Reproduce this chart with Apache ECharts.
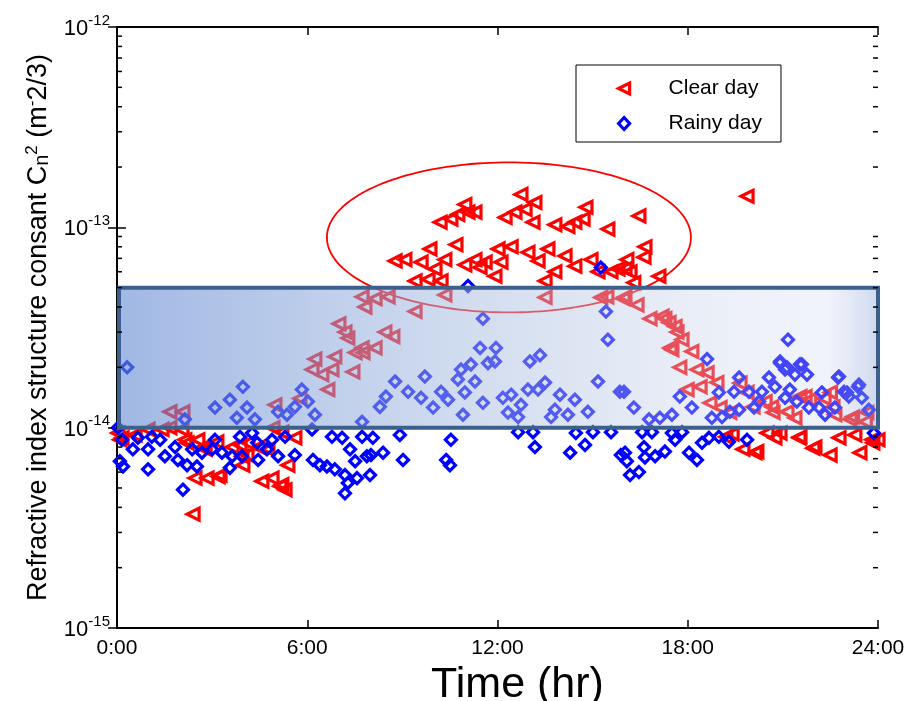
<!DOCTYPE html>
<html><head><meta charset="utf-8">
<script src="https://cdn.jsdelivr.net/npm/echarts@6/dist/echarts.min.js"></script>
<style>html,body{margin:0;padding:0;background:#fff}#c{width:908px;height:701px}</style>
</head><body><div id="c"></div>
<script>
// ---- data ----
const xTickValues = [0, 6, 12, 18, 24];
const xTickLabels = ['0:00', '6:00', '12:00', '18:00', '24:00'];
const yDecades = [1e-15, 1e-14, 1e-13, 1e-12];
const minorMultipliers = [2, 3, 4, 5, 6, 7, 8, 9];
const seriesNames = ['Clear day', 'Rainy day'];

const clearDay = [
[0.03,9.4e-15],[0.09,8.7e-15],[0.16,8.9e-15],[0.57,9.2e-15],[0.98,9.8e-15],[1.42,9.8e-15],[1.67,1.2e-14],[1.67,1.0e-14],
[2.05,9.8e-15],[2.08,1.2e-14],[2.14,8.7e-15],[2.21,8.4e-15],[2.40,3.7e-15],[2.46,5.6e-15],[2.55,8.7e-15],[2.71,8.0e-15],
[2.78,7.8e-15],[2.84,5.6e-15],[3.15,8.5e-15],[3.19,5.7e-15],[3.25,5.8e-15],[3.63,8.0e-15],[3.88,8.2e-15],[3.94,7.2e-15],
[3.97,6.5e-15],[4.10,7.3e-15],[4.13,8.4e-15],[4.45,8.0e-15],[4.57,5.4e-15],[4.76,7.8e-15],[4.89,5.6e-15],[4.92,1.0e-14],
[4.98,1.3e-14],[5.14,5.1e-15],[5.20,5.2e-15],[5.20,9.5e-15],[5.30,4.9e-15],[5.39,6.5e-15],[5.61,8.9e-15],[5.77,1.4e-14],
[6.15,1.95e-14],[6.24,2.2e-14],[6.46,1.84e-14],[6.65,1.55e-14],[6.78,1.95e-14],[6.87,2.26e-14],[7.0,3.3e-14],[7.19,3.0e-14],
[7.28,2.8e-14],[7.44,1.9e-14],[7.51,2.37e-14],[7.73,2.5e-14],[7.76,2.37e-14],[7.73,4.5e-14],[7.82,4.0e-14],[8.14,4.4e-14],
[8.14,2.5e-14],[8.45,3.0e-14],[8.55,4.5e-14],[8.70,2.85e-14],[8.77,6.8e-14],[9.08,6.9e-14],[9.40,5.4e-14],[9.40,3.8e-14],
[9.59,6.7e-14],[9.81,5.5e-14],[9.87,7.8e-14],[10.03,6.2e-14],[10.19,1.06e-13],[10.22,5.4e-14],[10.34,6.9e-14],[10.34,4.6e-14],
[10.53,1.1e-13],[10.69,8.2e-14],[10.75,1.16e-13],[10.97,1.3e-13],[10.97,6.5e-14],[11.07,1.19e-13],[11.29,1.19e-13],[11.29,6.9e-14],
[11.45,6.3e-14],[11.61,6.7e-14],[11.92,5.7e-14],[12.02,7.8e-14],[12.11,6.7e-14],[12.24,1.12e-13],[12.43,8.0e-14],[12.55,1.19e-13],
[12.74,1.46e-13],[12.87,1.23e-13],[12.96,7.5e-14],[13.12,1.06e-13],[13.18,1.33e-13],[13.28,6.8e-14],[13.50,5.4e-14],[13.50,4.47e-14],
[13.59,7.8e-14],[13.81,1.03e-13],[13.81,6.0e-14],[14.13,7.2e-14],[14.22,1.01e-13],[14.44,1.06e-13],[14.44,6.4e-14],[14.70,1.1e-13],
[14.79,1.26e-13],[14.95,6.9e-14],[15.17,6.0e-14],[15.26,4.47e-14],[15.45,4.5e-14],[15.48,9.8e-14],[15.58,6.0e-14],[15.80,6.2e-14],
[15.96,4.4e-14],[16.02,6.2e-14],[16.02,4.5e-14],[16.08,6.9e-14],[16.18,6.0e-14],[16.30,5.3e-14],[16.40,4.1e-14],[16.46,1.14e-13],
[16.62,7.1e-14],[16.65,8.0e-14],[16.81,3.5e-14],[17.09,5.7e-14],[17.19,3.6e-14],[17.28,3.5e-14],[17.41,3.35e-14],[17.44,2.5e-14],
[17.50,2.45e-14],[17.60,3.2e-14],[17.66,3.0e-14],[17.75,2.0e-14],[17.82,2.75e-14],[17.98,1.55e-14],[18.13,2.4e-14],[18.29,1.95e-14],
[18.39,1.6e-14],[18.61,1.88e-14],[18.70,1.33e-14],[18.92,1.68e-14],[19.02,1.26e-14],[19.2,9.0e-15],[19.33,1.19e-14],[19.4,9.3e-15],
[19.65,1.67e-14],[19.74,7.8e-15],[19.87,1.43e-13],[19.87,1.5e-14],[20.06,1.27e-14],[20.12,7.5e-15],[20.18,7.6e-15],[20.44,1.35e-14],
[20.50,9.4e-15],[20.65,1.27e-14],[20.69,1.19e-14],[20.75,8.9e-15],[20.91,9.4e-15],[21.13,1.2e-14],[21.38,1.12e-14],[21.51,8.9e-15],
[21.54,1.43e-14],[21.54,9.0e-15],[21.7,1.43e-14],[21.85,1.38e-14],[21.95,7.9e-15],[22.01,8.0e-15],[22.3,1.4e-14],[22.49,7.3e-15],
[22.5,1.5e-14],[22.58,1.27e-14],[22.64,1.16e-14],[22.77,8.9e-15],[23.12,1.1e-14],[23.2,1.13e-14],[23.27,9.2e-15],[23.43,7.5e-15],
[23.6,1.07e-14],[23.65,1.19e-14],[23.81,8.7e-15],[23.84,8.4e-15],[24.0,8.7e-15]
];

const rainyDay = [
[0.03,1.0e-14],[0.16,8.7e-15],[0.09,6.8e-15],[0.19,6.4e-15],[0.32,2.0e-14],[0.50,7.8e-15],[0.66,8.9e-15],[0.98,7.8e-15],
[0.98,6.2e-15],[1.10,9.0e-15],[1.36,8.7e-15],[1.51,7.2e-15],[1.83,8.0e-15],[1.92,6.9e-15],[2.14,1.1e-14],[2.21,6.5e-15],
[2.08,4.9e-15],[2.37,7.8e-15],[2.52,6.4e-15],[2.68,7.5e-15],[3.00,7.8e-15],[3.09,8.7e-15],[3.31,7.5e-15],[3.56,6.3e-15],
[3.63,7.2e-15],[3.88,9.0e-15],[3.94,7.2e-15],[4.26,9.4e-15],[4.42,8.4e-15],[4.45,6.9e-15],[4.73,7.8e-15],[4.89,8.7e-15],
[5.08,7.2e-15],[5.30,9.0e-15],[5.61,7.3e-15],[6.15,9.8e-15],[6.18,6.9e-15],[6.40,6.5e-15],[6.62,6.4e-15],[6.78,9.0e-15],
[6.87,6.2e-15],[7.10,8.9e-15],[7.19,5.8e-15],[7.35,7.8e-15],[7.51,6.8e-15],[7.28,5.3e-15],[7.57,5.6e-15],[7.19,4.7e-15],
[7.73,9.0e-15],[7.88,7.2e-15],
[3.09,1.26e-14],[3.56,1.38e-14],[3.97,1.6e-14],[4.10,1.26e-14],[3.78,1.12e-14],[4.35,1.1e-14],[5.08,1.2e-14],[5.36,1.16e-14],
[5.61,1.27e-14],[5.83,1.55e-14],[6.02,1.35e-14],[6.24,1.16e-14],[7.73,1.07e-14],
[8.77,1.7e-14],[9.71,1.8e-14],[8.29,1.27e-14],[8.48,1.43e-14],[9.18,1.51e-14],[9.59,1.41e-14],[9.97,1.26e-14],[10.22,1.51e-14],
[10.44,1.38e-14],[10.75,1.74e-14],[10.85,1.95e-14],[11.16,2.07e-14],[11.29,1.7e-14],[10.97,1.5e-14],[11.54,1.33e-14],[10.91,1.16e-14],
[11.70,2.1e-14],[11.92,2.14e-14],[13.02,2.14e-14],[13.34,2.3e-14],[12.17,1.41e-14],[12.43,1.46e-14],[12.96,1.55e-14],[12.74,1.3e-14],
[12.33,1.19e-14],[12.65,1.13e-14],[13.28,1.55e-14],[13.50,1.68e-14],[13.97,1.46e-14],[14.44,1.38e-14],[13.81,1.23e-14],[14.22,1.16e-14],
[14.85,1.2e-14],[15.17,1.7e-14],[15.86,1.51e-14],[13.69,1.13e-14],
[8.07,8.9e-15],[8.01,7.3e-15],[8.39,7.5e-15],[7.98,5.8e-15],[8.92,9.2e-15],[9.02,6.9e-15],[10.53,8.7e-15],[10.38,6.9e-15],
[10.50,6.5e-15],[12.65,9.5e-15],[13.12,9.5e-15],[13.18,8.0e-15],[14.29,7.5e-15],[14.47,9.4e-15],[14.76,8.2e-15],[15.01,9.5e-15],
[15.58,9.5e-15],[15.89,7.3e-15],
[11.07,5.1e-14],[11.54,3.5e-14],[15.42,3.8e-14],[15.48,2.75e-14],[11.45,2.5e-14],[11.95,2.5e-14],[15.26,6.3e-14],
[15.99,1.51e-14],[16.30,1.26e-14],[18.61,2.2e-14],[17.75,1.43e-14],[18.13,1.26e-14],[17.50,1.16e-14],[17.12,1.12e-14],[16.78,1.1e-14],
[19.62,1.78e-14],[18.98,1.5e-14],[19.46,1.51e-14],[19.93,1.51e-14],[20.34,1.51e-14],[20.56,1.78e-14],[20.91,2.1e-14],[21.07,1.95e-14],
[21.60,2.07e-14],[21.76,1.84e-14],[21.38,1.84e-14],[20.75,1.6e-14],[21.22,1.55e-14],[21.07,1.41e-14],[21.44,1.35e-14],[20.25,1.35e-14],
[20.09,1.26e-14],[19.62,1.23e-14],[19.33,1.2e-14],[19.08,1.13e-14],[18.76,1.12e-14],[22.23,1.5e-14],[22.77,1.8e-14],[22.93,1.51e-14],
[23.08,1.43e-14],[23.40,1.64e-14],[23.49,1.41e-14],[22.64,1.26e-14],[22.14,1.26e-14],[21.82,1.26e-14],[22.33,1.16e-14],[23.71,1.23e-14],
[21.16,2.75e-14],[20.91,2.14e-14],[21.13,2.0e-14],[21.54,2.07e-14],[22.74,1.78e-14],[23.37,1.6e-14],[23.02,1.5e-14],
[16.56,9.5e-15],[16.87,9.5e-15],[17.50,9.4e-15],[17.82,9.5e-15],[17.60,8.7e-15],[16.62,8.0e-15],[16.02,7.5e-15],[16.08,6.8e-15],
[16.18,5.8e-15],[16.46,6.0e-15],[16.65,7.1e-15],[16.97,7.2e-15],[17.28,7.6e-15],[18.04,7.5e-15],[18.29,6.9e-15],[18.45,8.4e-15],
[18.67,8.9e-15],[18.98,9.0e-15],[19.30,8.5e-15],[19.87,8.7e-15],[23.87,9.4e-15]
];

// annotation shapes, in data units
const bandHours = [0, 24];
const bandValues = [1e-14, 5e-14];
const ellipseHours = [6.62, 12.36, 18.1];          // left, centre, right
const ellipseValues = [3.76e-14, 8.9e-14, 2.11e-13]; // bottom, centre, top

// ---- chart ----
const FONT = 'Liberation Sans, Arial, sans-serif';
const minorTicks = [];
yDecades.slice(0, -1).forEach(d => minorMultipliers.forEach(m => minorTicks.push([0, d * m])));

const chart = echarts.init(document.getElementById('c'));
const bandFill = new echarts.graphic.LinearGradient(0, 0, 1, 0, [
  {offset: 0, color: 'rgba(102,140,211,0.62)'},
  {offset: 0.5, color: 'rgba(171,191,225,0.5)'},
  {offset: 0.8, color: 'rgba(201,212,235,0.35)'},
  {offset: 0.93, color: 'rgba(205,215,238,0.3)'},
  {offset: 1, color: 'rgba(155,175,221,0.5)'}
]);

const triStyle = {color: 'rgba(255,255,255,0)', borderColor: '#ff0000', borderWidth: 3.2, opacity: 1};
const diaStyle = {color: 'rgba(255,255,255,0)', borderColor: '#0000ff', borderWidth: 3.2, opacity: 1};

chart.setOption({
  animation: false,
  backgroundColor: '#fff',
  grid: {left: 117, right: 30, top: 27, bottom: 73, containLabel: false, outerBoundsMode: 'none'},
  legend: {
    data: [
      {name: seriesNames[0], icon: 'path://M0,5L10,0L10,10Z', itemStyle: triStyle},
      {name: seriesNames[1], icon: 'diamond', itemStyle: diaStyle}
    ],
    orient: 'vertical', left: 576, top: 65,
    padding: [13, 19, 8, 41], itemGap: 14, itemWidth: 11, itemHeight: 12,
    borderColor: '#000', borderWidth: 1, backgroundColor: '#fff',
    textStyle: {fontFamily: FONT, fontSize: 21, color: '#000', padding: [0, 0, 0, 34]}
  },
  xAxis: [{
    type: 'value', min: 0, max: 24, interval: 6, position: 'bottom',
    name: 'Time (hr)', nameLocation: 'middle', nameGap: 30,
    nameTextStyle: {fontFamily: FONT, fontSize: 43, color: '#000', padding: [0, 0, 0, 40]},
    axisLine: {lineStyle: {color: '#000', width: 2}},
    axisTick: {inside: true, length: 8, lineStyle: {color: '#000', width: 1.5}},
    axisLabel: {fontFamily: FONT, fontSize: 21, color: '#000', margin: 10,
      formatter: v => xTickLabels[xTickValues.indexOf(v)] || ''},
    splitLine: {show: false}
  }, {
    type: 'value', min: 0, max: 24, interval: 6, position: 'top',
    axisLine: {lineStyle: {color: '#000', width: 2}},
    axisTick: {inside: true, length: 8, lineStyle: {color: '#000', width: 1.5}},
    axisLabel: {show: false}, splitLine: {show: false}
  }],
  yAxis: [{
    type: 'log', logBase: 10, min: yDecades[0], max: yDecades[yDecades.length - 1], position: 'left',
    name: 'Refractive index structure consant C{sub|n}{sup|2} (m{sup|-}2/3)',
    nameLocation: 'middle', nameGap: 62, nameRotate: 90,
    nameTextStyle: {fontFamily: FONT, fontSize: 27, color: '#000',
      rich: {sub: {fontFamily: FONT, fontSize: 20, color: '#000', padding: [8, 0, 0, 0]},
             sup: {fontFamily: FONT, fontSize: 17, color: '#000', padding: [0, 0, 13, 0]}}},
    axisLine: {lineStyle: {color: '#000', width: 2}},
    axisTick: {inside: true, length: 9, lineStyle: {color: '#000', width: 1.5}},
    axisLabel: {margin: 7, formatter: v => '{b|10}{s|' + Math.round(Math.log10(v)) + '}',
      rich: {b: {fontFamily: FONT, fontSize: 22, color: '#000', lineHeight: 28, padding: [4, 0, 0, 0]},
             s: {fontFamily: FONT, fontSize: 15, color: '#000', lineHeight: 16, verticalAlign: 'top'}}},
    splitLine: {show: false}
  }, {
    type: 'log', logBase: 10, min: yDecades[0], max: yDecades[yDecades.length - 1], position: 'right',
    axisLine: {lineStyle: {color: '#000', width: 2}},
    axisTick: {inside: true, length: 9, lineStyle: {color: '#000', width: 1.5}},
    axisLabel: {show: false}, splitLine: {show: false}
  }],
  series: [{
    name: seriesNames[0], type: 'scatter', data: clearDay, z: 2,
    symbol: 'triangle', symbolRotate: 90, symbolSize: 12,
    itemStyle: triStyle
  }, {
    name: seriesNames[1], type: 'scatter', data: rainyDay, z: 2,
    symbol: 'diamond', symbolSize: 11,
    itemStyle: diaStyle
  }, {
    type: 'custom', name: 'ellipse', z: 3, silent: true,
    data: [[ellipseHours[1], ellipseValues[1]]],
    renderItem: (params, api) => {
      const l = api.coord([ellipseHours[0], ellipseValues[1]]);
      const r = api.coord([ellipseHours[2], ellipseValues[1]]);
      const t = api.coord([ellipseHours[1], ellipseValues[2]]);
      const b = api.coord([ellipseHours[1], ellipseValues[0]]);
      const cx = (l[0] + r[0]) / 2, cy = (t[1] + b[1]) / 2;
      const rx = (r[0] - l[0]) / 2, ry = (b[1] - t[1]) / 2;
      const pts = [];
      for (let i = 0; i < 180; i++) {
        const a = i / 180 * Math.PI * 2;
        pts.push([cx + rx * Math.cos(a), cy + ry * Math.sin(a)]);
      }
      return {type: 'polygon', shape: {points: pts}, style: {fill: 'none', stroke: '#ff0000', lineWidth: 1.8}};
    }
  }, {
    type: 'custom', name: 'band', z: 4, silent: true,
    data: [[bandHours[0], bandValues[0]]],
    renderItem: (params, api) => {
      const p1 = api.coord([bandHours[0], bandValues[1]]);
      const p2 = api.coord([bandHours[1], bandValues[0]]);
      return {type: 'rect', shape: {x: p1[0] + 2, y: p1[1], width: p2[0] - p1[0] - 2, height: p2[1] - p1[1]},
        style: {fill: bandFill, stroke: '#3d5f8c', lineWidth: 4}};
    }
  }, {
    type: 'custom', name: 'minorTicks', z: 5, silent: true,
    data: minorTicks,
    renderItem: (params, api) => {
      const v = api.value(1);
      const pL = api.coord([xTickValues[0], v]);
      const pR = api.coord([xTickValues[xTickValues.length - 1], v]);
      return {type: 'group', children: [
        {type: 'line', shape: {x1: pL[0], y1: pL[1], x2: pL[0] + 5, y2: pL[1]}, style: {stroke: '#000', lineWidth: 1.5}},
        {type: 'line', shape: {x1: pR[0], y1: pR[1], x2: pR[0] - 5, y2: pR[1]}, style: {stroke: '#000', lineWidth: 1.5}}
      ]};
    }
  }]
});
</script></body></html>
